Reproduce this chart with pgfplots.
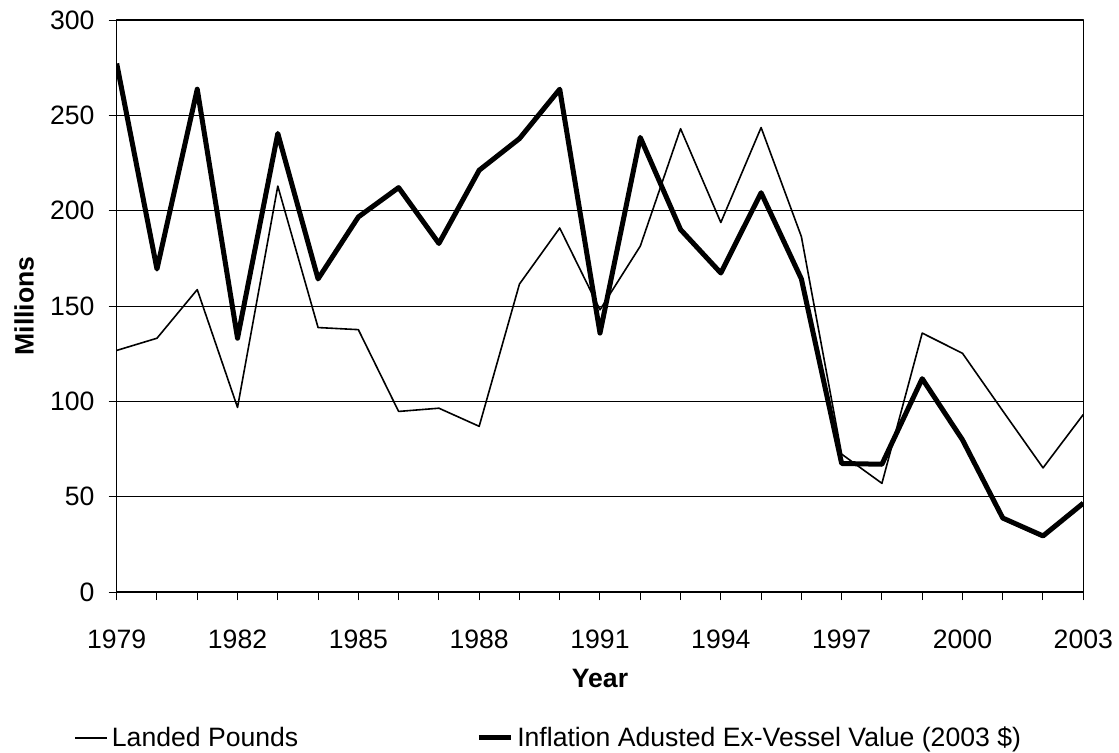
\documentclass[border=0pt]{standalone}
\usepackage{fontspec}
\setmainfont{Liberation Sans}
\usepackage{pgfplots}
\pgfplotsset{compat=1.18}
\begin{document}
\begin{tikzpicture}[font=\fontsize{13.3bp}{15.5bp}\selectfont]
\useasboundingbox (-58.35bp,-80.5bp) rectangle (501.15bp,296bp);
\begin{axis}[
  at={(0,0)}, anchor=south west,
  scale only axis, width=483.3bp, height=286bp,
  xmin=1979, xmax=2003, ymin=0, ymax=300,
  xtick={1979,1982,...,2003},
  xticklabels={1979,1982,1985,1988,1991,1994,1997,2000,2003},
  minor xtick={1979,...,2003},
  ytick={0,50,...,300},
  /pgf/number format/assume math mode=true,
  tick align=outside,
  major tick length=4bp, minor tick length=4bp,
  tick style={black, line width=0.5bp},
  xtick pos=bottom, ytick pos=left,
  axis line style={black, line width=0.75bp},
  ymajorgrids, grid style={black, line width=0.5bp},
  xticklabel style={anchor=base, yshift=-24bp},
  yticklabel style={anchor=east, xshift=-3.6bp},
  xlabel={\bfseries Year},
  xlabel style={at={(rel axis cs:0.5,0)}, anchor=base, yshift=-47.5bp},
  ylabel={\bfseries Millions},
  ylabel style={at={(rel axis cs:-0.0959,0.5)}, anchor=center},
  legend columns=2,
  legend style={at={(rel axis cs:-0.0442,-0.2552)}, anchor=west, draw=none,
    inner sep=0pt, font=\fontsize{13.3bp}{15.5bp}\selectfont,
    /tikz/every even column/.append style={column sep=87bp}},
  legend image code/.code={\draw[#1] (0bp,0bp) -- (16bp,0bp);},
  line join=round,
]
\addplot[black, line width=0.8bp] coordinates {
(1979,126.7) (1980,133.1) (1981,158.6) (1982,96.8) (1983,212.9)
(1984,138.7) (1985,137.6) (1986,94.7) (1987,96.4) (1988,86.9)
(1989,161.5) (1990,190.9) (1991,148.0) (1992,181.4) (1993,243.0)
(1994,193.8) (1995,243.6) (1996,186.4) (1997,72.3) (1998,57.0)
(1999,135.8) (2000,125.2) (2001,95.0) (2002,65.1) (2003,93.1)};
\addlegendentry{Landed Pounds}
\addplot[black, line width=2.5bp] coordinates {
(1979,277.2) (1980,169.4) (1981,263.7) (1982,133.1) (1983,240.5)
(1984,164.2) (1985,196.7) (1986,212.1) (1987,182.8) (1988,221.2)
(1989,237.8) (1990,263.7) (1991,135.8) (1992,238.4) (1993,190.1)
(1994,167.3) (1995,209.4) (1996,164.2) (1997,67.4) (1998,67.0)
(1999,111.9) (2000,79.8) (2001,38.8) (2002,29.4) (2003,46.6)};
\addlegendentry{Inflation Adusted Ex-Vessel Value (2003 \$)}
\end{axis}
\end{tikzpicture}
\end{document}
